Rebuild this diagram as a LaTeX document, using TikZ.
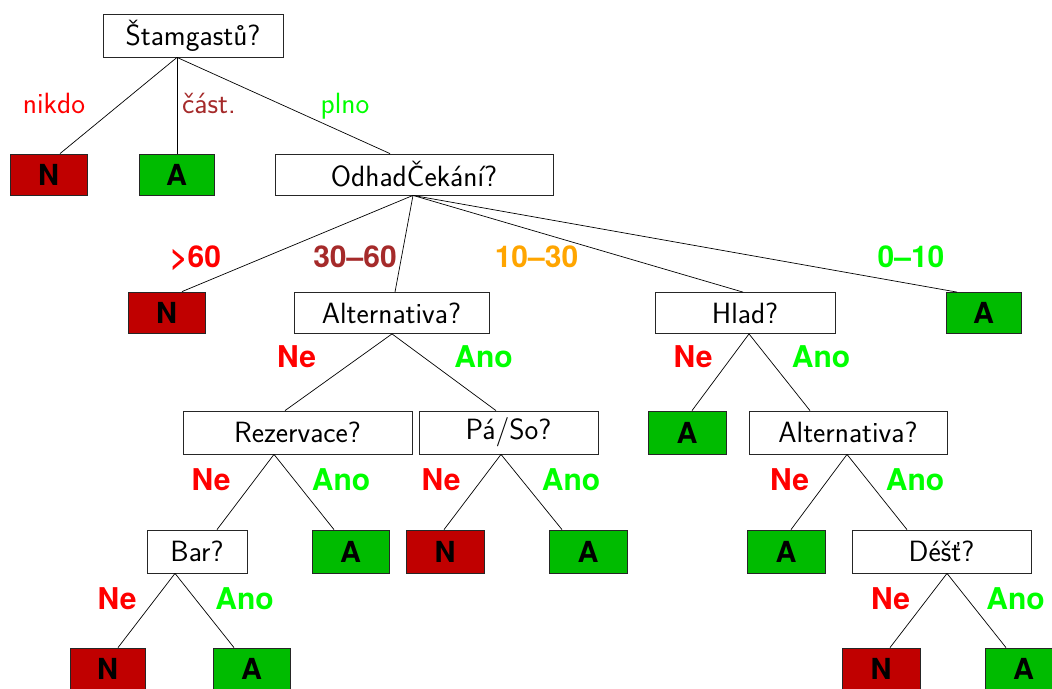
\documentclass[tikz,border=0pt]{standalone}
\usepackage{fontspec}
\newfontfamily\boldlab{TeX Gyre Heros}[BoldFont={* Bold}]
\definecolor{nred}{RGB}{192,0,0}
\definecolor{agreen}{RGB}{0,187,0}
\definecolor{lred}{RGB}{255,0,0}
\definecolor{lgreen}{RGB}{0,255,0}
\definecolor{lbrown}{RGB}{165,42,42}
\definecolor{lorange}{RGB}{255,165,0}
\begin{document}
\begin{tikzpicture}[x=1pt,y=-1pt,
  qbox/.style={draw=black!85,line width=0.8pt,fill=white,minimum height=42pt,inner sep=0pt,
     font=\sffamily\fontsize{29.3}{35}\selectfont},
  leafN/.style={draw=black!85,line width=0.8pt,fill=nred,minimum width=77pt,minimum height=41pt,inner sep=0pt,
     font=\boldlab\bfseries\fontsize{29}{34}\selectfont},
  leafA/.style={leafN,fill=agreen},
  edge/.style={line width=0.7pt,black},
  rlab/.style={anchor=base,inner sep=0pt,font=\sffamily\fontsize{29.3}{35}\selectfont},
  blab/.style={anchor=base,inner sep=0pt,font=\boldlab\bfseries\fontsize{30}{36}\selectfont}
]
\useasboundingbox (0,0) rectangle (1052,688);
% nodes
\node[qbox,minimum width=180pt,minimum height=43pt] (r) at (193,35.5) {Štamgastů?};
\node[leafN] (n1) at (48.5,174.5) {N};
\node[leafA,minimum width=75pt] (a1) at (176.5,174.5) {A};
\node[qbox,minimum width=278pt,minimum height=41pt] (odhad) at (414,174.5) {OdhadČekání?};
\node[leafN] (n2) at (166.5,312.5) {N};
\node[qbox,minimum width=195pt,minimum height=41pt] (alt1) at (391.5,313) {Alternativa?};
\node[qbox,minimum width=180pt,minimum height=41pt] (hlad) at (745,313) {Hlad?};
\node[leafA,minimum width=75pt] (a2) at (983.5,313) {A};
\node[qbox,minimum width=229pt,minimum height=43pt] (rez) at (297.5,432.5) {Rezervace?};
\node[qbox,minimum width=179pt,minimum height=43pt] (paso) at (508.5,432.5) {Pá/So?};
\node[leafA,minimum width=78pt,minimum height=43pt] (a3) at (687,432.5) {A};
\node[qbox,minimum width=198pt,minimum height=43pt] (alt2) at (848,432.5) {Alternativa?};
\node[qbox,minimum width=100pt,minimum height=43pt] (bar) at (197,551.5) {Bar?};
\node[leafA,minimum height=43pt] (a4) at (350.5,551.5) {A};
\node[leafN,minimum width=78pt,minimum height=43pt] (n3) at (445,551.5) {N};
\node[leafA,minimum width=78pt,minimum height=43pt] (a5) at (588,551.5) {A};
\node[leafA,minimum width=78pt,minimum height=43pt] (a6) at (786,551.5) {A};
\node[qbox,minimum width=179pt,minimum height=43pt] (dest) at (941.5,551.5) {Déšť?};
\node[leafN,minimum width=75pt,minimum height=42pt] (n4) at (107.5,669) {N};
\node[leafA,minimum height=42pt] (a7) at (251.5,669) {A};
\node[leafN,minimum width=78pt,minimum height=42pt] (n5) at (881,669) {N};
\node[leafA,minimum height=42pt] (a8) at (1023.5,669) {A};
% edges
\draw[edge] ([xshift=-16pt]r.south) -- ([xshift=11.5pt]n1.north);
\draw[edge] ([xshift=-16pt]r.south) -- ([xshift=0.5pt]a1.north);
\draw[edge] ([xshift=-16pt]r.south) -- ([xshift=-24pt]odhad.north);
\draw[edge] ([xshift=-1pt]odhad.south) -- ([xshift=15.5pt]n2.north);
\draw[edge] ([xshift=-1pt]odhad.south) -- ([xshift=3.5pt]alt1.north);
\draw[edge] ([xshift=-1pt]odhad.south) -- ([xshift=-2pt]hlad.north);
\draw[edge] ([xshift=-1pt]odhad.south) -- ([xshift=-26.5pt]a2.north);
\draw[edge] ([xshift=0.5pt]alt1.south) -- ([xshift=-12.5pt]rez.north);
\draw[edge] ([xshift=0.5pt]alt1.south) -- ([xshift=-12.5pt]paso.north);
\draw[edge] ([xshift=4pt]hlad.south) -- ([xshift=5pt]a3.north);
\draw[edge] ([xshift=4pt]hlad.south) -- ([xshift=-38pt]alt2.north);
\draw[edge] ([xshift=-23.5pt]rez.south) -- ([xshift=20pt]bar.north);
\draw[edge] ([xshift=-23.5pt]rez.south) -- ([xshift=-16.5pt]a4.north);
\draw[edge] ([xshift=-7.5pt]paso.south) -- ([xshift=-1pt]n3.north);
\draw[edge] ([xshift=-7.5pt]paso.south) -- ([xshift=-26pt]a5.north);
\draw[edge] ([xshift=-1pt]alt2.south) -- ([xshift=5pt]a6.north);
\draw[edge] ([xshift=-1pt]alt2.south) -- ([xshift=-34.5pt]dest.north);
\draw[edge] ([xshift=-22pt]bar.south) -- ([xshift=10.5pt]n4.north);
\draw[edge] ([xshift=-22pt]bar.south) -- ([xshift=-17.5pt]a7.north);
\draw[edge] ([xshift=5.5pt]dest.south) -- ([xshift=9pt]n5.north);
\draw[edge] ([xshift=5.5pt]dest.south) -- ([xshift=-17.5pt]a8.north);
% labels
\node[rlab,text=lred] (l1) at (54,113) {nikdo};
\node[rlab,text=lbrown] (l2) at (209,113) {část.};
\node[rlab,text=lgreen] (l3) at (345,113) {plno};
\node[blab,text=lred] (l4) at (195.5,267) {>60};
\node[blab,text=lbrown] (l5) at (355,267) {30–60};
\node[blab,text=lorange] (l6) at (536.5,267) {10–30};
\node[blab,text=lgreen] (l7) at (911,267) {0–10};
\node[blab,text=lred] (l8) at (296.5,367.5) {Ne};
\node[blab,text=lgreen] (l9) at (483.5,367.5) {Ano};
\node[blab,text=lred] (l10) at (693,367.5) {Ne};
\node[blab,text=lgreen] (l11) at (821,367.5) {Ano};
\node[blab,text=lred] (l12) at (211,490) {Ne};
\node[blab,text=lgreen] (l13) at (341,490) {Ano};
\node[blab,text=lred] (l14) at (441,490) {Ne};
\node[blab,text=lgreen] (l15) at (571,490) {Ano};
\node[blab,text=lred] (l16) at (789.5,490) {Ne};
\node[blab,text=lgreen] (l17) at (915,490) {Ano};
\node[blab,text=lred] (l18) at (117,609) {Ne};
\node[blab,text=lgreen] (l19) at (244.5,609) {Ano};
\node[blab,text=lred] (l20) at (890.5,609) {Ne};
\node[blab,text=lgreen] (l21) at (1015.5,609) {Ano};
\end{tikzpicture}
\end{document}
